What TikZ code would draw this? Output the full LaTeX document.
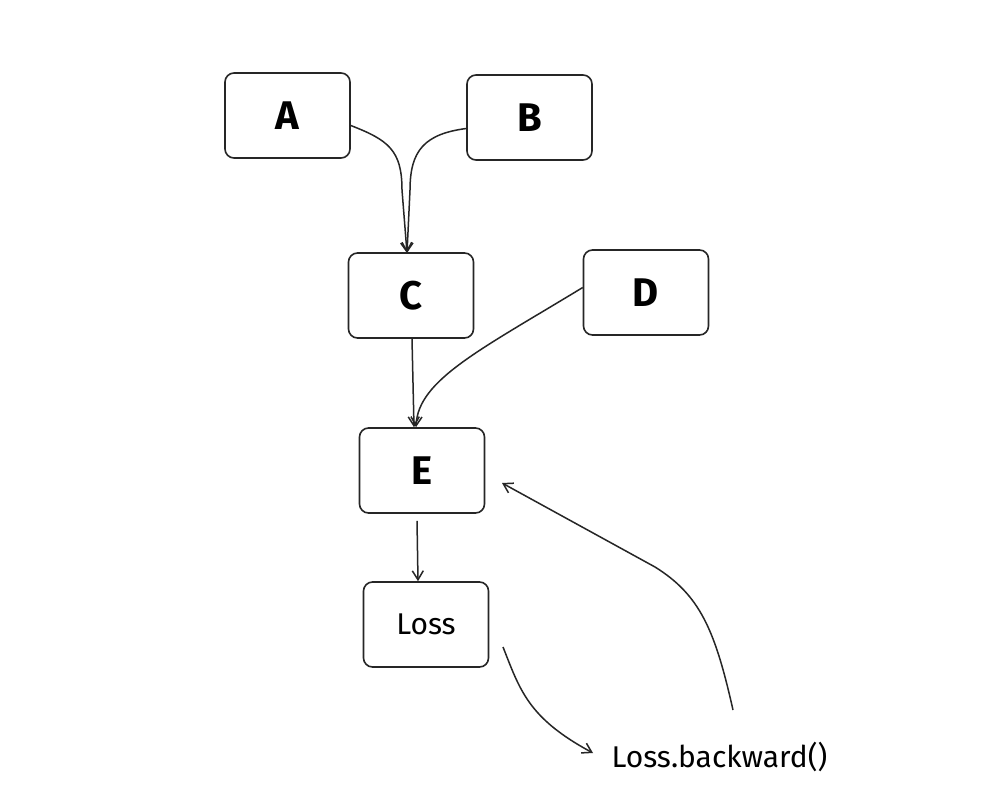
\documentclass[tikz,border=0pt]{standalone}
\usepackage{fontspec}
\setmainfont{Fira Sans}
\usetikzlibrary{arrows.meta}
\begin{document}
\begin{tikzpicture}[x=1pt,y=-1pt,
  box/.style={draw=black!85, line width=1.6pt, rounded corners=9pt, minimum width=125pt, minimum height=85pt, inner sep=0pt},
  big/.style={font=\fontsize{40}{42}\selectfont\bfseries},
  small/.style={font=\fontsize{30}{32}\selectfont},
  arr/.style={draw=black!85, line width=1.5pt, -{Straight Barb[length=9pt,width=11pt,line width=1.5pt]}}
]
\useasboundingbox[fill=white] (0,0) rectangle (1008,805);
\node[box,big] (A) at (287.5,115.5) {A};
\node[box,big] (B) at (529.5,117.5) {B};
\node[box,big] (C) at (411,295.5) {C};
\node[box,big] (D) at (646,292.5) {D};
\node[box,big] (E) at (422,470.5) {E};
\node[box,small] (L) at (426,624.5) {Loss};
\node[small,anchor=west] (LB) at (608,757) {Loss.backward()};

\coordinate (cin) at (407,253);
\draw[arr] ([yshift=-10pt]A.east) .. controls (388,140) and (402,150) .. (402,190) -- (cin);
\draw[arr] ([yshift=-11pt]B.west) .. controls (425,134) and (410,150) .. (410,190) -- (cin);
\draw[arr] ([xshift=1pt]C.south) -- ([xshift=-8pt]E.north);
\draw[arr] ([yshift=5pt]D.west) .. controls (480,350) and (418,380) .. ([xshift=-6pt]E.north);
\draw[arr] ([shift={(-5pt,-7pt)}]E.south) -- ([xshift=-8pt]L.north);
\coordinate (ls) at (503,647);
\coordinate (lbend) at (593,753);
\draw[arr] (ls) .. controls (520,690) and (528,718) .. (lbend);
\coordinate (bs) at (733,710);
\coordinate (ein) at (502,483);
\draw[arr] (bs) .. controls (715,630) and (700,595) .. (655,567) -- (ein);
\end{tikzpicture}
\end{document}
